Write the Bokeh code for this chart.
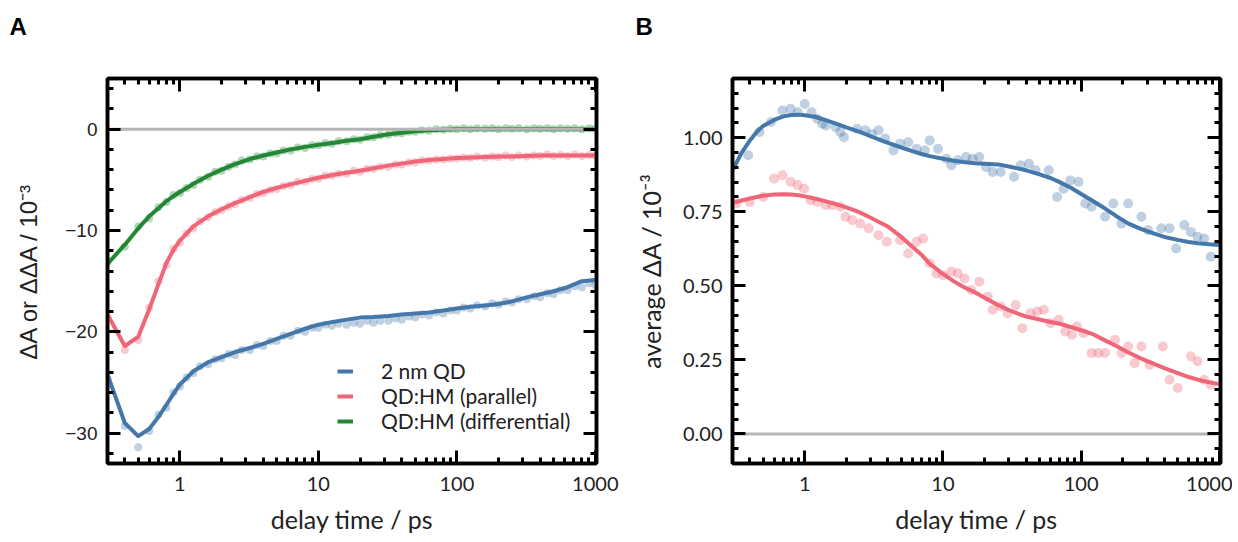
from bokeh.plotting import figure
from bokeh.models import (FixedTicker, LogAxis, LinearAxis, Span, Legend, LegendItem,
                          Title, Range1d, PrintfTickFormatter, CustomJSTickFormatter)
from bokeh.layouts import row
from bokeh.embed import file_html
from bokeh.resources import INLINE

# ---------------- data ----------------
X_TICKS = [1, 10, 100, 1000]
X_TICK_LABELS = ["1", "10", "100", "1000"]
A_Y_TICKS = [-30, -20, -10, 0]
A_Y_TICK_LABELS = ["\u221230", "\u221220", "\u221210", "0"]
B_Y_TICKS = [0.0, 0.25, 0.5, 0.75, 1.0]
B_Y_TICK_LABELS = ["0.00", "0.25", "0.50", "0.75", "1.00"]

SERIES_A = ["2 nm QD", "QD:HM (parallel)", "QD:HM (differential)"]

# Panel A: fitted curves
A_FIT_T = [0.3, 0.4, 0.5, 0.6, 0.7, 0.8, 0.9, 1.0, 1.25, 1.6, 2.0, 2.5, 3.2, 4.0, 5.0, 6.3,
           8.0, 10, 13, 16, 20, 25, 32, 40, 50, 63, 80, 100, 130, 160, 200, 250, 320, 400,
           500, 630, 800, 1000]
A_FIT_QD = [-24.2, -29.0, -30.3, -29.6, -28.4, -27.2, -26.1, -25.2, -23.9, -23.0, -22.5, -22.0,
            -21.6, -21.2, -20.7, -20.2, -19.7, -19.3, -19.0, -18.8, -18.6, -18.55, -18.45, -18.3,
            -18.2, -18.1, -17.9, -17.7, -17.5, -17.4, -17.25, -17.0, -16.6, -16.3, -16.0, -15.6,
            -15.0, -14.9]
A_FIT_PAR = [-18.3, -21.4, -20.5, -17.8, -15.3, -13.2, -11.9, -11.0, -9.6, -8.6, -7.9, -7.3,
             -6.7, -6.2, -5.8, -5.45, -5.1, -4.8, -4.5, -4.3, -4.1, -3.85, -3.6, -3.4, -3.2,
             -3.05, -2.95, -2.85, -2.8, -2.75, -2.7, -2.7, -2.65, -2.6, -2.6, -2.6, -2.6, -2.6]
A_FIT_DIFF = [-13.3, -11.4, -9.8, -8.6, -7.8, -7.1, -6.6, -6.2, -5.4, -4.6, -4.0, -3.45, -2.95,
              -2.6, -2.3, -2.0, -1.75, -1.55, -1.35, -1.15, -1.0, -0.75, -0.5, -0.35, -0.2,
              -0.1, -0.05, 0.0, 0.0, 0.0, 0.0, 0.0, 0.0, 0.0, 0.0, 0.0, 0.0, 0.0]

# Panel A: measured points
A_DATA_T = [0.30, 0.40, 0.50, 0.60, 0.70, 0.80, 0.90, 1.0, 1.12, 1.25,
            1.4, 1.6, 1.8, 2.0, 2.25, 2.5, 2.8, 3.2, 3.6, 4.0,
            4.5, 5.0, 5.6, 6.3, 7.1, 8.0, 9.0, 10, 11.2, 12.5,
            14, 16, 18, 20, 22.5, 25, 28, 32, 36, 40,
            45, 50, 56, 63, 71, 80, 90, 100, 112, 125,
            140, 160, 180, 200, 225, 250, 280, 320, 360, 400,
            450, 500, 560, 630, 710, 800, 900, 1000]
A_DATA_QD = [-24.6, -29.3, -31.4, -29.8, -28.2, -27.5, -26.0, -25.4, -24.5, -24.1,
             -23.4, -23.2, -22.7, -22.6, -22.2, -22.3, -21.8, -21.8, -21.3, -21.4,
             -20.9, -20.9, -20.4, -20.4, -19.9, -20.0, -19.6, -19.6, -19.3, -19.4,
             -19.2, -19.3, -19.1, -19.2, -18.9, -19.1, -18.9, -18.9, -18.7, -18.8,
             -18.5, -18.6, -18.3, -18.4, -18.1, -18.2, -17.9, -17.9, -17.6, -17.7,
             -17.4, -17.5, -17.2, -17.3, -17.0, -17.1, -16.8, -16.8, -16.5, -16.6,
             -16.2, -16.3, -15.9, -15.9, -15.5, -15.6, -15.2, -15.4]
A_DATA_PAR = [-18.6, -21.8, -20.8, -17.6, -15.0, -13.4, -11.8, -11.2, -10.3, -9.8,
              -9.1, -8.7, -8.2, -8.0, -7.6, -7.4, -7.0, -6.8, -6.4, -6.3,
              -6.0, -5.9, -5.6, -5.5, -5.2, -5.2, -4.9, -4.9, -4.6, -4.6,
              -4.4, -4.4, -4.1, -4.2, -3.9, -3.9, -3.7, -3.7, -3.5, -3.5,
              -3.3, -3.3, -3.1, -3.1, -3.0, -3.0, -2.9, -2.9, -2.8, -2.85,
              -2.7, -2.8, -2.7, -2.75, -2.6, -2.75, -2.6, -2.7, -2.6, -2.65,
              -2.5, -2.65, -2.55, -2.65, -2.5, -2.65, -2.55, -2.6]
A_DATA_DIFF = [-13.1, -11.6, -9.6, -8.8, -7.7, -7.2, -6.5, -6.3, -5.8, -5.5,
               -5.0, -4.7, -4.2, -4.1, -3.7, -3.5, -3.1, -3.0, -2.7, -2.7,
               -2.4, -2.4, -2.1, -2.1, -1.8, -1.85, -1.6, -1.6, -1.4, -1.45,
               -1.2, -1.2, -1.0, -1.05, -0.8, -0.8, -0.6, -0.55, -0.4, -0.4,
               -0.25, -0.25, -0.1, -0.15, 0.0, -0.05, 0.05, 0.0, 0.1, 0.0,
               0.1, 0.05, 0.1, 0.0, 0.1, 0.05, 0.1, 0.0, 0.1, 0.05,
               0.1, 0.0, 0.1, 0.05, 0.1, 0.0, 0.1, 0.05]

# Panel B: fitted curves
B_FIT_T = [0.3, 0.35, 0.4, 0.45, 0.5, 0.6, 0.7, 0.8, 0.9, 1.0,
           1.2, 1.4, 1.7, 2.0, 2.5, 3.0, 3.5, 4.0, 5.0, 6.0,
           7.0, 8.0, 10, 12, 14, 17, 20, 25, 30, 40,
           50, 60, 70, 85, 100, 120, 150, 180, 220, 270,
           330, 400, 500, 600, 700, 850, 1000]
B_FIT_QD = [0.89, 0.95, 0.99, 1.02, 1.04, 1.06, 1.072, 1.077, 1.078, 1.076,
            1.07, 1.06, 1.047, 1.035, 1.02, 1.005, 0.993, 0.983, 0.967, 0.955,
            0.945, 0.938, 0.929, 0.922, 0.918, 0.914, 0.912, 0.91, 0.903, 0.89,
            0.876, 0.864, 0.85, 0.83, 0.81, 0.788, 0.76, 0.735, 0.71, 0.692,
            0.678, 0.665, 0.655, 0.648, 0.644, 0.64, 0.638]
B_FIT_HM = [0.78, 0.788, 0.795, 0.80, 0.804, 0.808, 0.809, 0.808, 0.806, 0.802,
            0.794, 0.786, 0.775, 0.765, 0.748, 0.73, 0.714, 0.70, 0.665, 0.632,
            0.605, 0.575, 0.54, 0.515, 0.497, 0.478, 0.46, 0.435, 0.418, 0.396,
            0.386, 0.378, 0.372, 0.36, 0.35, 0.338, 0.315, 0.297, 0.275, 0.255,
            0.238, 0.222, 0.205, 0.192, 0.183, 0.174, 0.168]

# Panel B: measured points
B_QD_T = [0.39, 0.47, 0.57, 0.69, 0.79, 0.89, 1.0, 1.12, 1.23, 1.34,
          1.42, 1.67, 1.81, 1.92, 2.39, 2.74, 3.06, 3.42, 3.82, 4.38,
          4.89, 5.61, 6.44, 7.39, 8.02, 9.21, 10.6, 11.5, 12.8, 14.7,
          16.4, 18.3, 20.5, 22.9, 26.2, 32.7, 36.5, 41.9, 46.8, 58.3,
          67.0, 74.7, 83.4, 95.8, 107, 119, 149, 171, 196, 219,
          273, 305, 380, 436, 487, 558, 623, 696, 777, 868]
B_QD_V = [0.941, 1.019, 1.053, 1.092, 1.098, 1.086, 1.114, 1.086, 1.064, 1.047,
          1.041, 1.036, 1.019, 1.002, 1.030, 1.025, 1.013, 1.025, 0.997, 0.957,
          0.980, 0.985, 0.963, 0.957, 0.991, 0.963, 0.929, 0.907, 0.924, 0.935,
          0.929, 0.935, 0.901, 0.884, 0.884, 0.868, 0.907, 0.912, 0.890, 0.890,
          0.800, 0.828, 0.856, 0.851, 0.778, 0.767, 0.733, 0.778, 0.710, 0.778,
          0.733, 0.688, 0.694, 0.694, 0.626, 0.705, 0.682, 0.666, 0.660, 0.598]
B_HM_T = [0.32, 0.40, 0.50, 0.60, 0.69, 0.79, 0.89, 0.99, 1.10, 1.23,
          1.42, 1.58, 1.81, 1.97, 2.20, 2.52, 2.90, 3.42, 3.92, 4.89,
          5.61, 6.44, 7.19, 8.02, 8.96, 10.0, 11.5, 12.8, 14.3, 16.0,
          18.3, 21.1, 22.9, 26.2, 29.3, 33.6, 37.5, 43.1, 48.1, 53.7,
          60.0, 68.8, 76.8, 85.8, 93.2, 104, 119, 133, 149, 176,
          196, 219, 244, 273, 313, 390, 436, 500, 623, 696,
          777, 868]
B_HM_V = [0.778, 0.783, 0.800, 0.862, 0.873, 0.851, 0.840, 0.828, 0.789, 0.783,
          0.772, 0.772, 0.767, 0.733, 0.722, 0.710, 0.694, 0.671, 0.649, 0.654,
          0.609, 0.649, 0.660, 0.576, 0.542, 0.536, 0.548, 0.542, 0.525, 0.486,
          0.514, 0.464, 0.419, 0.430, 0.407, 0.435, 0.357, 0.407, 0.413, 0.419,
          0.374, 0.385, 0.346, 0.334, 0.363, 0.340, 0.273, 0.273, 0.273, 0.318,
          0.273, 0.295, 0.239, 0.295, 0.233, 0.295, 0.183, 0.155, 0.262, 0.245,
          0.183, 0.166]

# ---------------- styling ----------------
BLUE, RED, GREEN = "#4477AA", "#EE6677", "#228833"
ZERO = "#b5b5b5"
TXT = "#222222"
X_MINOR = [0.4, 0.5, 0.6, 0.7, 0.8, 0.9, 2, 3, 4, 5, 6, 7, 8, 9,
           20, 30, 40, 50, 60, 70, 80, 90, 200, 300, 400, 500, 600, 700, 800, 900]
A_Y_MINOR = [v for v in range(-32, 5, 2) if v % 10 != 0]
B_Y_MINOR = [round(-0.05 + 0.05 * i, 2) for i in range(25)]
B_Y_MINOR = [v for v in B_Y_MINOR if round(v / 0.25, 6) != round(v / 0.25)]

FRAME_H = 385
TOP = 78
BOTTOM = 78


def style_axis(ax):
    ax.axis_line_color = "black"
    ax.axis_line_width = 3.5
    ax.major_tick_line_color = "black"
    ax.major_tick_line_width = 3
    ax.minor_tick_line_color = "black"
    ax.minor_tick_line_width = 3
    ax.major_tick_in = 13
    ax.major_tick_out = 0
    ax.minor_tick_in = 6
    ax.minor_tick_out = 0
    ax.major_label_text_color = TXT
    ax.axis_label_text_color = TXT
    ax.axis_label_text_font_style = "normal"


def make_panel(letter, y0, y1, fw, ml, mr, y_ticks, y_labels, y_minor, y_fmt, ytick_font,
               ylabel, ylabel_font, ylabel_size, ylabel_standoff):
    p = figure(x_axis_type="log", x_range=Range1d(0.3, 1020), y_range=Range1d(y0, y1),
               frame_width=fw, frame_height=FRAME_H, min_border_left=ml, min_border_right=mr,
               min_border_top=TOP, min_border_bottom=BOTTOM, output_backend="svg",
               toolbar_location=None, tools="")
    p.grid.visible = False
    p.outline_line_color = "black"
    p.outline_line_width = 3.5
    p.background_fill_color = "white"
    p.border_fill_color = "white"

    xb = p.xaxis[0]
    style_axis(xb)
    xb.ticker = FixedTicker(ticks=X_TICKS, minor_ticks=X_MINOR)
    xb.formatter = PrintfTickFormatter(format="%d")
    xb.major_label_overrides = dict(zip(X_TICKS, X_TICK_LABELS))
    xb.major_label_text_font = "Lato"
    xb.major_label_text_font_size = "20px"
    xb.major_label_standoff = 13
    xb.axis_label = "delay time / ps"
    xb.axis_label_text_font = "Lato"
    xb.axis_label_text_font_size = "25px"
    xb.axis_label_standoff = 10

    yl = p.yaxis[0]
    style_axis(yl)
    yl.ticker = FixedTicker(ticks=y_ticks, minor_ticks=y_minor)
    yl.formatter = PrintfTickFormatter(format=y_fmt)
    yl.major_label_overrides = dict(zip(y_ticks, y_labels))
    yl.major_label_text_font = ytick_font
    yl.major_label_text_font_size = "19px" if ytick_font != "Lato" else "20px"
    yl.major_label_standoff = 10
    yl.axis_label = ylabel
    yl.axis_label_text_font = ylabel_font
    yl.axis_label_text_font_size = ylabel_size
    yl.axis_label_standoff = ylabel_standoff

    blank = CustomJSTickFormatter(code="return ''")
    top = LogAxis(ticker=FixedTicker(ticks=X_TICKS, minor_ticks=X_MINOR), formatter=blank)
    style_axis(top)
    top.major_label_standoff = 0
    p.add_layout(top, "above")
    right = LinearAxis(ticker=FixedTicker(ticks=y_ticks, minor_ticks=y_minor), formatter=blank)
    style_axis(right)
    right.major_label_standoff = 0
    p.add_layout(right, "right")

    # panel letter (second, blank line lifts it towards the top of the page)
    p.add_layout(Title(text=letter + "\n ", align="left", offset=-(ml - 9), standoff=20,
                       vertical_align="top", text_font="Liberation Sans",
                       text_font_style="bold", text_font_size="24px", text_color="black"),
                 "above")
    return p


# ---------------- panel A ----------------
pA = make_panel("A", -33, 5, 489, 107, 30, A_Y_TICKS, A_Y_TICK_LABELS, A_Y_MINOR, "%d",
                "Liberation Sans", "\u0394A or \u0394\u0394A / 10\u207b\u00b3",
                "Liberation Sans", "24px", 20)

fits_A = [A_FIT_QD, A_FIT_PAR, A_FIT_DIFF]
data_A = [A_DATA_QD, A_DATA_PAR, A_DATA_DIFF]
cols_A = [BLUE, RED, GREEN]
for ys, c in zip(data_A, cols_A):
    pA.scatter(A_DATA_T, ys, size=8, marker="circle", fill_color=c, fill_alpha=0.35,
               line_color=None)
lines_A = []
for ys, c in zip(fits_A, cols_A):
    lines_A.append(pA.line(A_FIT_T, ys, line_color=c, line_width=4, line_join="round"))
pA.add_layout(Span(location=0, dimension="width", line_color=ZERO, line_width=3,
                   level="glyph"))

legend = Legend(items=[LegendItem(label=s, renderers=[r]) for s, r in zip(SERIES_A, lines_A)],
                location=(230, 30), glyph_width=16, glyph_height=20, label_height=20,
                label_standoff=28, spacing=0, padding=0, margin=0,
                border_line_color=None, background_fill_alpha=0,
                label_text_font="Lato", label_text_font_size="21px", label_text_color=TXT)
pA.add_layout(legend)

# ---------------- panel B ----------------
pB = make_panel("B", -0.1, 1.2, 488, 106, 12, B_Y_TICKS, B_Y_TICK_LABELS, B_Y_MINOR, "%.2f",
                "Lato", "average \u0394A / 10\u207b\u00b3", "Lato", "25px", 14)
pB.add_layout(Span(location=0, dimension="width", line_color=ZERO, line_width=3,
                   level="underlay"))
pB.scatter(B_QD_T, B_QD_V, size=10, marker="circle", fill_color=BLUE, fill_alpha=0.35,
           line_color=None)
pB.scatter(B_HM_T, B_HM_V, size=10, marker="circle", fill_color=RED, fill_alpha=0.35,
           line_color=None)
pB.line(B_FIT_T, B_FIT_QD, line_color=BLUE, line_width=4, line_join="round")
pB.line(B_FIT_T, B_FIT_HM, line_color=RED, line_width=4, line_join="round")

layout = row(pA, pB)
open("out.html", "w").write(file_html(layout, INLINE))
